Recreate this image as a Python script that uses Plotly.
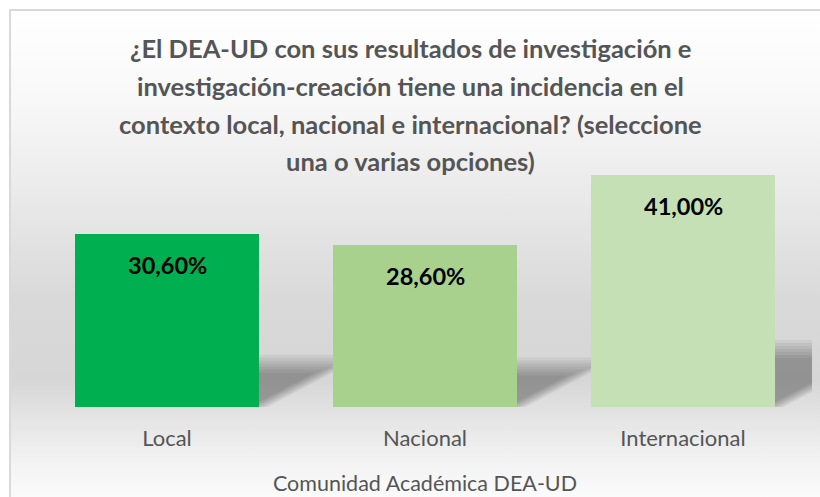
import base64
import plotly.graph_objects as go

# ---- data ----
categories = ["Local", "Nacional", "Internacional"]
values = [30.6, 28.6, 41.0]
bar_colors = ["#00B050", "#A9D18E", "#C5E0B4"]
title_lines = [
    "¿El DEA-UD con sus resultados de investigación e",
    "investigación-creación tiene una incidencia en el",
    "contexto local, nacional e internacional? (seleccione",
    "una o varias opciones)",
]
x_axis_title = "Comunidad Académica DEA-UD"

# ---- layout geometry ----
W, H = 820, 497
L, R, T, B = 38, 8, 150, 90
PW, PH = W - L - R, H - T - B
Y_MAX = 45.5
BAR_W = 0.71
FONT = "Lato"
TEXT_GREY = "#555555"
EXTRA = 20  # background image overshoot beyond the figure edges

SW, SH = W + EXTRA, H + EXTRA
# background gradient + chart border (top and left edges) as an SVG image
svg = f'''<svg xmlns="http://www.w3.org/2000/svg" width="{SW}" height="{SH}" viewBox="0 0 {SW} {SH}" preserveAspectRatio="none">
<defs><linearGradient id="g" gradientUnits="userSpaceOnUse" x1="0" y1="10" x2="0" y2="{H}">
<stop offset="0" stop-color="#ffffff"/>
<stop offset="0.185" stop-color="#f8f8f8"/>
<stop offset="0.39" stop-color="#e9e9e9"/>
<stop offset="0.595" stop-color="#d9d9d9"/>
<stop offset="0.76" stop-color="#d6d6d6"/>
<stop offset="0.842" stop-color="#e5e5e5"/>
<stop offset="0.924" stop-color="#f2f2f2"/>
<stop offset="1" stop-color="#fbfbfb"/>
</linearGradient></defs>
<rect width="{SW}" height="{SH}" fill="#ffffff"/>
<rect x="10" y="10" width="{SW - 10}" height="{SH - 10}" fill="url(#g)"/>
<path d="M 10,{SH} L 10,10 L {SW},10" fill="none" stroke="#d9d9d9" stroke-width="2"/>
</svg>'''
svg_uri = "data:image/svg+xml;base64," + base64.b64encode(svg.encode("utf-8")).decode("ascii")

x_pos = list(range(len(categories)))

fig = go.Figure()
fig.add_trace(go.Bar(
    x=x_pos, y=values, width=BAR_W,
    marker=dict(color=bar_colors, line=dict(width=0)),
    hoverinfo="skip",
))

# perspective shadows (computed from the bar values)
px_per_cat = PW / 3.0
px_per_unit = PH / Y_MAX
shapes = []
n_layers = 7
for i, v in enumerate(values):
    sh = v * 0.25                      # shadow height in data units
    dx = 1.9 * sh * px_per_unit / px_per_cat  # skew in category units
    for k in range(n_layers):
        g = (k - (n_layers - 1) / 2) * 3.0    # px grow/shrink
        gx = g / px_per_cat
        gy = g / px_per_unit
        x0 = i - BAR_W / 2
        x1 = i + BAR_W / 2 + gx
        top = max(sh + gy, 0.5)
        d = top / sh
        path = (f"M {x0},0 L {x1},0 L {x1 + dx * d},{top} "
                f"L {x0 + dx * d},{top} Z")
        shapes.append(dict(type="path", path=path, xref="x", yref="y",
                           fillcolor="rgba(0,0,0,0.05)", line=dict(width=0),
                           layer="below"))

annotations = []
# title lines
title_y_px = [48, 86, 124, 161]
for line, ypx in zip(title_lines, title_y_px):
    annotations.append(dict(
        text=f"<b>{line}</b>", x=0.5 - (L - R) / 2 / PW, xref="paper",
        y=(H - B - ypx) / PH, yref="paper", xanchor="center", yanchor="middle",
        showarrow=False, font=dict(family=FONT, size=25.5, color=TEXT_GREY)))
# data labels
for i, v in enumerate(values):
    annotations.append(dict(
        text="<b>" + f"{v:.2f}%".replace(".", ",") + "</b>",
        x=i, y=v, xref="x", yref="y", yshift=-31,
        xanchor="center", yanchor="middle", showarrow=False,
        font=dict(family=FONT, size=23.5, color="#000000")))

fig.update_layout(
    width=W, height=H,
    margin=dict(l=L, r=R, t=T, b=B, pad=0),
    paper_bgcolor="#ffffff", plot_bgcolor="rgba(0,0,0,0)",
    showlegend=False,
    bargap=0,
    images=[dict(source=svg_uri, xref="paper", yref="paper",
                 x=-L / PW, y=1 + T / PH, sizex=SW / PW, sizey=SH / PH,
                 xanchor="left", yanchor="top", sizing="stretch",
                 layer="below")],
    shapes=shapes,
    annotations=annotations,
    xaxis=dict(
        range=[-0.5, 2.5], tickvals=x_pos, ticktext=categories,
        showgrid=False, zeroline=False, showline=False,
        ticks="outside", ticklen=12, tickcolor="rgba(0,0,0,0)",
        tickfont=dict(family=FONT, size=22, color=TEXT_GREY),
        title=dict(text=x_axis_title, standoff=25,
                   font=dict(family=FONT, size=21.5, color=TEXT_GREY)),
        fixedrange=True,
        automargin=False,
    ),
    yaxis=dict(range=[0, Y_MAX], visible=False, fixedrange=True),
)

fig.write_html(
    "out.html",
    config={"displayModeBar": False, "staticPlot": True},
    post_script=(
        "document.documentElement.style.margin='0';"
        "document.documentElement.style.overflow='hidden';"
        "document.body.style.margin='0';"
        "document.body.style.overflow='hidden';"
    ),
)
